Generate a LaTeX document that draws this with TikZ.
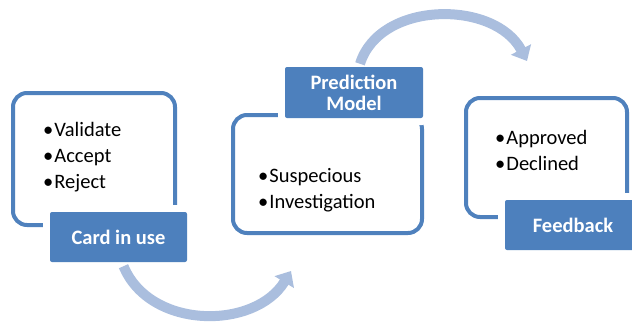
\documentclass[tikz,border=0pt]{standalone}
\usepackage{fontspec}
\setmainfont{Carlito}
\usetikzlibrary{arrows.meta}
\definecolor{frameblue}{RGB}{79,129,189}
\definecolor{tagblue}{RGB}{77,128,189}
\definecolor{arcblue}{RGB}{170,190,222}

\begin{document}
\begin{tikzpicture}[x=1pt,y=-1pt,
	frame/.style={draw=frameblue, line width=4pt, rounded corners=14pt, inner sep=0pt},
	tag/.style={fill=tagblue, rounded corners=2pt, text=white, align=center, inner sep=0pt,
		font=\fontsize{20.5}{21}\selectfont\bfseries, preaction={draw=white, line width=14pt}},
	items/.style={anchor=west, align=left, inner sep=0pt, font=\fontsize{20.5}{26}\selectfont},
	loop/.style={draw=arcblue, line width=10pt, -{Triangle[width=22pt,length=13pt]}}]
			\clip (0,0) rectangle (632,322);
			\coordinate (up) at (527,61);
			\coordinate (down) at (291,271);
			\node[frame, minimum width=162pt, minimum height=132pt] (use) at (94,159) {};
			\node[frame, minimum width=189pt, minimum height=118pt] (model) at (327.5,174) {};
			\node[frame, minimum width=161pt, minimum height=119pt] (back) at (546.5,157.5) {};
			\node[tag, minimum width=137pt, minimum height=50pt] (card) at (118.5,237) {Card in use};
			\node[tag, minimum width=138pt, minimum height=51pt] (pred) at (354,92.5) {Prediction\\Model};
			\node[tag, minimum width=136pt, minimum height=50pt] (feed) at (573,225) {Feedback};
			\node[items] (l1) at (43,157) {•\kern1pt Validate\\•\kern1pt Accept\\•\kern1pt Reject};
			\node[items] (l2) at (258,190.5) {•\kern1pt Suspecious\\•\kern1pt Investigation};
			\node[items] (l3) at (495,150) {•\kern1pt Approved\\•\kern1pt Declined};
			\draw[loop] ([xshift=5pt,yshift=-4pt]card.south) .. controls (150,330) and (255,330) .. (down);
			\draw[loop] ([xshift=6pt,yshift=3pt]pred.north) .. controls (380,0) and (495,0) .. (up);
		\end{tikzpicture}
\end{document}
